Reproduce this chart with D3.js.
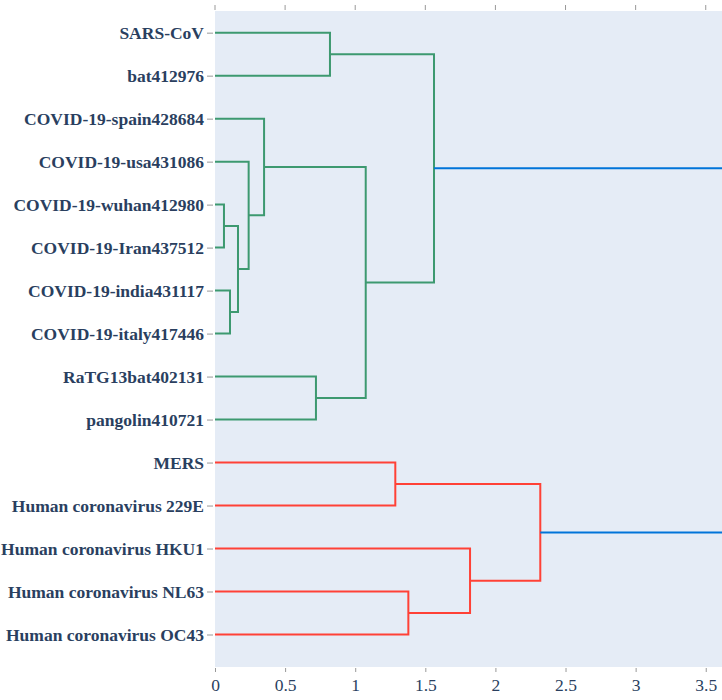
<!DOCTYPE html>
<html>
<head>
<meta charset="utf-8">
<script src="https://cdn.jsdelivr.net/npm/d3@7"></script>
<style>
  body { margin: 0; background: #fff; }
  svg { display: block; }
</style>
</head>
<body>
<svg id="chart" width="722" height="700"></svg>
<script>
// leaves, top to bottom
var leafNames = [
  "SARS-CoV", "bat412976", "COVID-19-spain428684", "COVID-19-usa431086",
  "COVID-19-wuhan412980", "COVID-19-Iran437512", "COVID-19-india431117",
  "COVID-19-italy417446", "RaTG13bat402131", "pangolin410721", "MERS",
  "Human coronavirus 229E", "Human coronavirus HKU1", "Human coronavirus NL63",
  "Human coronavirus OC43"
];

// linkage: new cluster ids start at leafNames.length (15)
var mergeLeft   = [4, 6, 15, 3, 2, 8, 19, 0, 22, 10, 13, 12, 24, 23];
var mergeRight  = [5, 7, 16, 17, 18, 9, 20, 1, 21, 11, 14, 25, 26, 27];
var mergeHeight = [0.064, 0.107, 0.164, 0.24, 0.35, 0.72, 1.075, 0.82, 1.562,
                   1.286, 1.379, 1.819, 2.32, 4.0];
var mergeGroup  = ["g", "g", "g", "g", "g", "g", "g", "g", "g",
                   "r", "r", "r", "r", "root"];

var xTicks = [0, 0.5, 1, 1.5, 2, 2.5, 3, 3.5];

var groupColor = { g: "rgb(61,153,112)", r: "rgb(255,65,54)", root: "rgb(0,116,217)" };

var svg = d3.select("#chart");
var plotL = 215, plotR = 722, plotT = 11, plotB = 667;
var font = "'Liberation Serif', 'Times New Roman', serif";
var textColor = "#2a3f5f";
var tickColor = "#999";

var x = d3.scaleLinear().domain([0, 3.616]).range([plotL, plotR]);
var y = d3.scalePoint().domain(leafNames).range([plotT, plotB]).padding(0.63).align(0.4);

svg.append("rect")
  .attr("x", plotL).attr("y", plotT)
  .attr("width", plotR - plotL).attr("height", plotB - plotT)
  .attr("fill", "#E5ECF6");

svg.append("clipPath").attr("id", "clip")
  .append("rect")
  .attr("x", plotL).attr("y", plotT)
  .attr("width", plotR - plotL).attr("height", plotB - plotT);

// position of every node: h = merge height, y = pixel row
var nodes = leafNames.map(function (d) { return { h: 0, y: y(d) }; });
mergeLeft.forEach(function (l, i) {
  var a = nodes[l], b = nodes[mergeRight[i]];
  nodes.push({ h: mergeHeight[i], y: (a.y + b.y) / 2 });
});

var links = mergeLeft.map(function (l, i) {
  var a = nodes[l], b = nodes[mergeRight[i]], h = mergeHeight[i];
  return { pts: [[a.h, a.y], [h, a.y], [h, b.y], [b.h, b.y]], group: mergeGroup[i] };
});

var line = d3.line()
  .x(function (p) { return x(p[0]); })
  .y(function (p) { return p[1]; });

svg.append("g")
  .attr("clip-path", "url(#clip)")
  .selectAll("path")
  .data(links)
  .enter().append("path")
  .attr("d", function (d) { return line(d.pts); })
  .attr("fill", "none")
  .attr("stroke", function (d) { return groupColor[d.group]; })
  .attr("stroke-width", 2);

// bottom axis
var xAxis = svg.append("g")
  .attr("transform", "translate(0," + plotB + ")")
  .call(d3.axisBottom(x).tickValues(xTicks).tickSize(5).tickPadding(7)
    .tickFormat(function (d) { return String(d); }));
xAxis.select(".domain").remove();
xAxis.selectAll("line").attr("stroke", tickColor).attr("y1", 1);
xAxis.selectAll("text")
  .attr("fill", textColor)
  .style("font-family", font)
  .style("font-size", "17.5px");

// mirrored ticks on top
svg.append("g")
  .selectAll("line")
  .data(xTicks)
  .enter().append("line")
  .attr("x1", function (d) { return x(d); })
  .attr("x2", function (d) { return x(d); })
  .attr("y1", plotT - 6).attr("y2", plotT - 1)
  .attr("stroke", tickColor);

// left axis with leaf labels
var yAxis = svg.append("g")
  .attr("transform", "translate(" + plotL + ",0)")
  .call(d3.axisLeft(y).tickSize(8).tickPadding(3));
yAxis.select(".domain").remove();
yAxis.selectAll("line").attr("stroke", tickColor).attr("x2", -2).attr("x1", -8);
yAxis.selectAll("text")
  .attr("fill", textColor)
  .style("font-family", font)
  .style("font-weight", "bold")
  .style("font-size", "17.5px");
</script>
</body>
</html>
